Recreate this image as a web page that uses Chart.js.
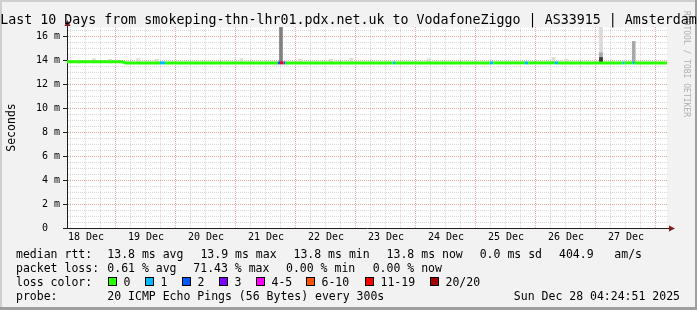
<!DOCTYPE html>
<html>
<head>
<meta charset="utf-8">
<script src="https://cdn.jsdelivr.net/npm/chart.js@4.4.1/dist/chart.umd.min.js"></script>
<style>
  body { margin: 0; background: #f2f2f2; }
  canvas { display: block; }
</style>
</head>
<body>
<canvas id="chart" width="697" height="310"></canvas>
<script>
// x values are hours counted from 18 Dec 00:00
const startHour = 4.414;   // 18 Dec 04:24:51
const endHour = 244.414;   // 28 Dec 04:24:51
const dayLabels = ["18 Dec", "19 Dec", "20 Dec", "21 Dec", "22 Dec",
                   "23 Dec", "24 Dec", "25 Dec", "26 Dec", "27 Dec"];
const yMax = 16.8;         // ms

// median rtt (ms) and the number of lost pings (of 20) at each point
const medianHours = [4.41, 26.4, 28.0, 41.6, 43.6, 88.7, 89.6, 91.0, 91.8, 134.7, 135.6,
                     173.6, 174.9, 187.6, 188.9, 199.6, 200.8, 226.7, 227.5, 230.7, 231.5, 244.41];
const medianMs    = [13.9, 13.9, 13.8, 13.8, 13.8, 13.8, 13.8, 13.8, 13.8, 13.8, 13.8,
                     13.8, 13.8, 13.8, 13.8, 13.8, 13.8, 13.8, 13.8, 13.8, 13.8, 13.8];
const medianLoss  = [0, 0, 0, 1, 0, 2, 14, 2, 0, 1, 0,
                     1, 0, 1, 0, 1, 0, 1, 0, 1, 0, 0];

// smoke (spread of the single pings) where it shows above the median, four shades
const smokeHours = [15.2, 21.6, 32.8, 40.4, 74.2, 90.0, 97.6, 110.0, 118.2, 149.2, 199.0, 204.0, 218.0, 231.1];
const smokeLow   = [13.8, 13.8, 13.8, 13.8, 13.8, 13.8, 13.8, 13.8, 13.8, 13.8, 13.8, 13.8, 13.8, 13.8];
const smokeLight = [14.15, 14.1, 14.15, 14.1, 14.15, null, 14.1, 14.1, 14.2, 14.15, 14.25, 14.1, 16.8, null];
const smokeMid   = [null, null, null, null, null, null, null, null, null, null, null, null, 14.65, 15.6];
const smokeDark  = [null, null, null, null, null, 16.8, null, null, null, null, null, null, null, null];
const smokeCore  = [null, null, null, null, null, null, null, null, null, null, null, null, 14.25, null];

const lossLabels = ["0", "1", "2", "3", "4-5", "6-10", "11-19", "20/20"];
const lossUpper  = [0, 1, 2, 3, 5, 10, 19, 20];
const lossColors = ["#26ff00", "#00b8ff", "#0059ff", "#7e00ff", "#ff00ff", "#ff5500", "#ff0000", "#a00000"];

const title = "Last 10 Days from smokeping-thn-lhr01.pdx.net.uk to VodafoneZiggo | AS33915 | Amsterdam";
const rttStats  = ["median rtt:", "13.8 ms avg", "13.9 ms max", "13.8 ms min", "13.8 ms now", "0.0 ms sd", "404.9", "am/s"];
const lossStats = ["packet loss:", "0.61 % avg", "71.43 % max", "0.00 % min", "0.00 % now"];
const probeText = ["probe:", "20 ICMP Echo Pings (56 Bytes) every 300s"];
const dateText = "Sun Dec 28 04:24:51 2025";

function lossColor(n) {
  for (let i = 0; i < lossUpper.length; i++) {
    if (n <= lossUpper[i]) return lossColors[i];
  }
  return lossColors[lossColors.length - 1];
}

function smokeSet(tops, color, order) {
  return {
    type: "bar",
    data: smokeHours.map((h, i) => ({ x: h, y: tops[i] == null ? null : [smokeLow[i], tops[i]] })),
    backgroundColor: color,
    borderWidth: 0,
    barThickness: 3,
    grouped: false,
    order: order
  };
}

const MONO = "'DejaVu Sans Mono', monospace";
const MINOR = "rgba(143,143,143,0.35)";
const MAJOR = "rgba(222,79,79,0.5)";

const decor = {
  id: "decor",
  beforeDraw(chart) {
    const { ctx, chartArea: a } = chart;
    ctx.save();
    ctx.fillStyle = "#f2f2f2";
    ctx.fillRect(0, 0, 697, 310);
    // 3d frame
    ctx.fillStyle = "#cfcfcf";
    ctx.fillRect(0, 0, 697, 2);
    ctx.fillRect(0, 0, 2, 310);
    ctx.fillStyle = "#9e9e9e";
    ctx.fillRect(0, 307, 697, 3);
    ctx.fillRect(695, 0, 2, 310);
    ctx.fillStyle = "#ffffff";
    ctx.fillRect(a.left, a.top, a.right - a.left, a.bottom - a.top);
    ctx.restore();
  },
  afterDraw(chart) {
    const { ctx, chartArea: a } = chart;
    ctx.save();

    // watermark
    ctx.save();
    ctx.translate(684, 11);
    ctx.rotate(Math.PI / 2);
    ctx.font = "8px " + MONO;
    ctx.fillStyle = "#b0b0b0";
    ctx.textBaseline = "alphabetic";
    ctx.fillText("RRDTOOL / TOBI OETIKER", 0, 0);
    ctx.restore();

    // axis extensions and arrows
    ctx.strokeStyle = "#1f1f1f";
    ctx.lineWidth = 1;
    ctx.beginPath();
    ctx.moveTo(a.left + 0.5, a.top);
    ctx.lineTo(a.left + 0.5, 22);
    ctx.moveTo(a.right, a.bottom + 0.5);
    ctx.lineTo(a.right + 3, a.bottom + 0.5);
    ctx.stroke();
    ctx.fillStyle = "#801f1f";
    ctx.beginPath();
    ctx.moveTo(a.left + 0.5, 20);
    ctx.lineTo(a.left - 2.5, 26);
    ctx.lineTo(a.left + 3.5, 26);
    ctx.closePath();
    ctx.fill();
    ctx.beginPath();
    ctx.moveTo(a.right + 8, a.bottom + 0.5);
    ctx.lineTo(a.right + 2, a.bottom - 2.5);
    ctx.lineTo(a.right + 2, a.bottom + 3.5);
    ctx.closePath();
    ctx.fill();

    ctx.fillStyle = "#000";
    // title
    ctx.font = "13.3px " + MONO;
    ctx.textAlign = "center";
    ctx.textBaseline = "alphabetic";
    ctx.fillText(title, 348.5, 23.5);

    // y axis title
    ctx.save();
    ctx.translate(15, 127.5);
    ctx.rotate(-Math.PI / 2);
    ctx.font = "11.5px " + MONO;
    ctx.fillText("Seconds", 0, 0);
    ctx.restore();

    // legend block
    ctx.font = "11.5px " + MONO;
    ctx.textAlign = "left";
    const rttX = [16, 107.3, 200.4, 293.5, 386.6, 479.7, 559, 614.3];
    rttStats.forEach((s, i) => ctx.fillText(s, rttX[i], 257.7));
    const lossX = [16, 107.3, 193.3, 286, 372.7];
    lossStats.forEach((s, i) => ctx.fillText(s, lossX[i], 271.8));
    ctx.fillText("loss color:", 16, 285.9);
    const boxX = [108.5, 145.5, 182.5, 219.5, 256.5, 306.5, 365.5, 430.5];
    lossLabels.forEach((s, i) => {
      ctx.fillStyle = lossColors[i];
      ctx.fillRect(boxX[i], 277.5, 8, 8);
      ctx.strokeStyle = "#000";
      ctx.strokeRect(boxX[i], 277.5, 8, 8);
      ctx.fillStyle = "#000";
      ctx.fillText(s, boxX[i] + 15, 285.9);
    });
    ctx.fillText(probeText[0], 16, 300);
    ctx.fillText(probeText[1], 107.3, 300);
    ctx.textAlign = "right";
    ctx.fillText(dateText, 680, 300);
    ctx.restore();
  }
};

const isMajorY = v => Math.abs(v / 2 - Math.round(v / 2)) < 1e-6;

new Chart(document.getElementById("chart"), {
  data: {
    datasets: [
      {
        type: "line",
        data: medianHours.map((h, i) => ({ x: h, y: medianMs[i] })),
        borderWidth: 3,
        borderCapStyle: "butt",
        pointRadius: 0,
        tension: 0,
        segment: { borderColor: c => lossColor(medianLoss[c.p0DataIndex]) },
        borderColor: lossColors[0],
        order: 0
      },
      smokeSet(smokeLight, "#dadada", 4),
      smokeSet(smokeMid, "#a8a8a8", 3),
      smokeSet(smokeDark, "#808080", 2),
      smokeSet(smokeCore, "#3a3a3a", 1)
    ]
  },
  options: {
    responsive: false,
    animation: false,
    devicePixelRatio: 1,
    layout: { padding: { left: 0, top: 27, right: 30, bottom: 0 } },
    plugins: { legend: { display: false }, tooltip: { enabled: false } },
    scales: {
      x: {
        type: "linear",
        offset: false,
        min: startHour,
        max: endHour,
        afterBuildTicks(scale) {
          const t = [];
          for (let h = 6; h < endHour; h += 6) t.push({ value: h });
          scale.ticks = t;
        },
        afterFit(scale) { scale.height = 82; },
        ticks: {
          autoSkip: false,
          maxRotation: 0,
          minRotation: 0,
          padding: 3,
          color: "#000",
          font: { family: MONO, size: 10 },
          callback: v => (v % 24 === 12 ? dayLabels[(v - 12) / 24] : "")
        },
        grid: {
          offset: false,
          drawTicks: false,
          lineWidth: 1,
          color: c => (c.tick && c.tick.value % 24 === 0 ? MAJOR : MINOR)
        },
        border: { color: "#1f1f1f", width: 1, dash: [1, 1] }
      },
      y: {
        min: 0,
        max: yMax,
        afterBuildTicks(scale) {
          const t = [];
          for (let i = 0; i * 0.5 <= yMax + 1e-9; i++) t.push({ value: i * 0.5 });
          scale.ticks = t;
        },
        afterFit(scale) { scale.width = 67; },
        ticks: {
          autoSkip: false,
          padding: 3,
          color: "#000",
          font: { family: MONO, size: 10 },
          callback: v => (isMajorY(v) ? (v === 0 ? "0  " : v + " m") : "")
        },
        grid: {
          drawTicks: true,
          tickLength: 4,
          lineWidth: 1,
          color: c => (c.tick && isMajorY(c.tick.value) && c.tick.value > 0 ? MAJOR : MINOR),
          tickColor: c => (c.tick && isMajorY(c.tick.value) ? "#1f1f1f" : "rgba(0,0,0,0)")
        },
        border: { color: "#1f1f1f", width: 1, dash: [1, 1] }
      }
    }
  },
  plugins: [decor]
});
</script>
</body>
</html>
